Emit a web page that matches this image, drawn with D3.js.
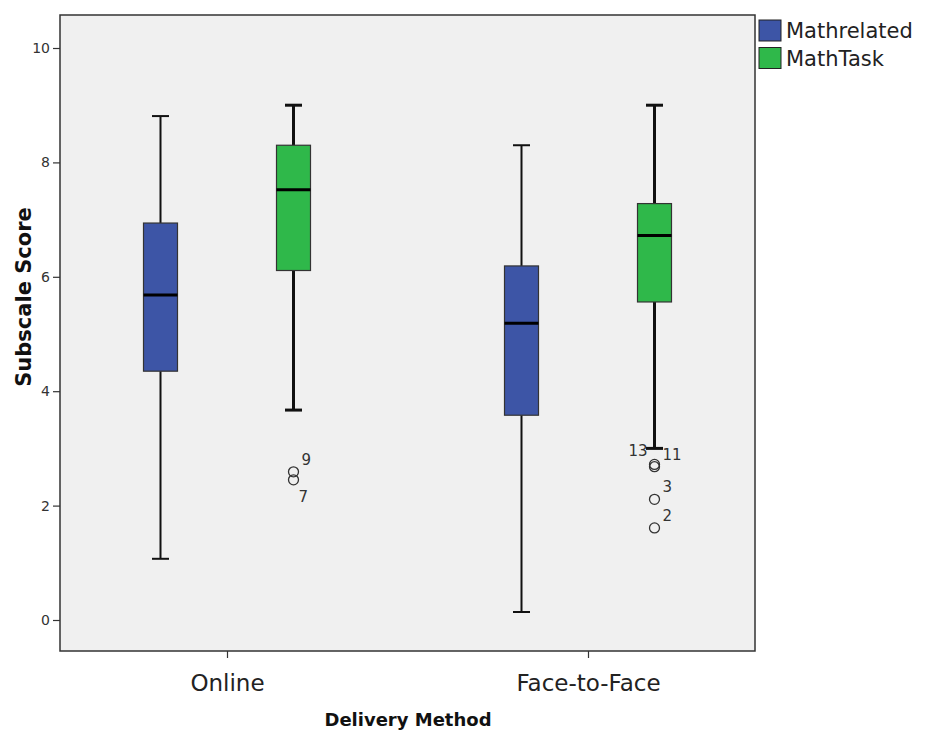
<!DOCTYPE html>
<html><head><meta charset="utf-8">
<script src="https://cdn.jsdelivr.net/npm/d3@7"></script>
<style>body{margin:0;background:#fff}svg{display:block}text{font-family:"DejaVu Sans",sans-serif}</style>
</head><body>
<svg id="c" width="926" height="731"></svg>
<script>
const categories = ["Online", "Face-to-Face"];
const seriesNames = ["Mathrelated", "MathTask"];
const seriesColors = ["#3d55a6", "#2fb84a"];
const yTicks = [0, 2, 4, 6, 8, 10];

// five-number summaries
const mathrelated = [
  {cat: "Online",       low: 1.07, q1: 4.35, med: 5.68, q3: 6.94, high: 8.81},
  {cat: "Face-to-Face", low: 0.14, q1: 3.58, med: 5.19, q3: 6.19, high: 8.30}
];
const mathtask = [
  {cat: "Online",       low: 3.67, q1: 6.11, med: 7.52, q3: 8.30, high: 9.00},
  {cat: "Face-to-Face", low: 3.00, q1: 5.56, med: 6.72, q3: 7.28, high: 9.00}
];
const outliers = [
  {cat: "Online",       series: "MathTask", value: 2.59, label: "9",  side: "ur"},
  {cat: "Online",       series: "MathTask", value: 2.45, label: "7",  side: "lr"},
  {cat: "Face-to-Face", series: "MathTask", value: 2.72, label: "13", side: "ul"},
  {cat: "Face-to-Face", series: "MathTask", value: 2.68, label: "11", side: "ur"},
  {cat: "Face-to-Face", series: "MathTask", value: 2.11, label: "3",  side: "ur"},
  {cat: "Face-to-Face", series: "MathTask", value: 1.61, label: "2",  side: "ur"}
];

const svg = d3.select("#c");
const L = 60, R = 755, T = 15, B = 651;

const x = d3.scalePoint().domain(categories).range([L, R]).padding(0.4626);
const xs = d3.scalePoint().domain(seriesNames).range([-66.5, 66.5]);
const y = d3.scaleLinear().domain([-0.542, 10.577]).range([B, T]);

svg.append("rect").attr("x", L).attr("y", T).attr("width", R - L).attr("height", B - T)
  .attr("fill", "#f0f0f0").attr("stroke", "#333").attr("stroke-width", 1.5);

// axes
const yAxis = svg.append("g").attr("transform", `translate(${L},0)`)
  .call(d3.axisLeft(y).tickValues(yTicks).tickSize(7).tickPadding(3).tickFormat(d3.format("d")));
yAxis.select(".domain").remove();
yAxis.selectAll("line").attr("stroke", "#333").attr("stroke-width", 1.2);
yAxis.selectAll("text").attr("font-size", 14).attr("fill", "#333").attr("font-family", "DejaVu Sans");

const xAxis = svg.append("g").attr("transform", `translate(0,${B})`)
  .call(d3.axisBottom(x).tickSize(7).tickPadding(16.5));
xAxis.select(".domain").remove();
xAxis.selectAll("line").attr("stroke", "#333").attr("stroke-width", 1.2);
xAxis.selectAll("text").attr("font-size", 23).attr("fill", "#222").attr("font-family", "DejaVu Sans");

svg.append("text").attr("transform", `translate(31,297) rotate(-90)`).attr("text-anchor", "middle")
  .attr("font-size", 21).attr("font-weight", "bold").attr("fill", "#111").text("Subscale Score");
svg.append("text").attr("x", 408).attr("y", 726).attr("text-anchor", "middle")
  .attr("font-size", 18).attr("font-weight", "bold").attr("fill", "#111").text("Delivery Method");

// boxes
const bw = 34, cap = 17;
[mathrelated, mathtask].forEach((data, si) => {
  const sname = seriesNames[si];
  const wsw = si === 0 ? 2 : 3;
  const g = svg.append("g");
  data.forEach(d => {
    const cx = x(d.cat) + xs(sname);
    g.append("line").attr("x1", cx).attr("x2", cx).attr("y1", y(d.q3)).attr("y2", y(d.high)).attr("stroke", "#111").attr("stroke-width", wsw);
    g.append("line").attr("x1", cx).attr("x2", cx).attr("y1", y(d.q1)).attr("y2", y(d.low)).attr("stroke", "#111").attr("stroke-width", wsw);
    g.append("line").attr("x1", cx - cap / 2).attr("x2", cx + cap / 2).attr("y1", y(d.high)).attr("y2", y(d.high)).attr("stroke", "#111").attr("stroke-width", wsw);
    g.append("line").attr("x1", cx - cap / 2).attr("x2", cx + cap / 2).attr("y1", y(d.low)).attr("y2", y(d.low)).attr("stroke", "#111").attr("stroke-width", wsw);
    g.append("rect").attr("x", cx - bw / 2).attr("y", y(d.q3)).attr("width", bw).attr("height", y(d.q1) - y(d.q3))
      .attr("fill", seriesColors[si]).attr("stroke", "#333").attr("stroke-width", 1.2);
    g.append("line").attr("x1", cx - bw / 2).attr("x2", cx + bw / 2).attr("y1", y(d.med)).attr("y2", y(d.med)).attr("stroke", "#000").attr("stroke-width", 3);
  });
});

// outliers
const off = {ur: [8, -7, "start"], lr: [5, 22, "start"], ul: [-7, -8, "end"]};
outliers.forEach(o => {
  const cx = x(o.cat) + xs(o.series);
  const cy = y(o.value);
  svg.append("circle").attr("cx", cx).attr("cy", cy).attr("r", 5).attr("fill", "none").attr("stroke", "#333").attr("stroke-width", 1.3);
  svg.append("text").attr("x", cx + off[o.side][0]).attr("y", cy + off[o.side][1]).attr("text-anchor", off[o.side][2])
    .attr("font-size", 15).attr("fill", "#333").text(o.label);
});

// legend
const lg = svg.append("g");
seriesNames.forEach((s, i) => {
  lg.append("rect").attr("x", 759).attr("y", 20 + i * 27.5).attr("width", 22).attr("height", 21)
    .attr("fill", seriesColors[i]).attr("stroke", "#222").attr("stroke-width", 1);
  lg.append("text").attr("x", 786).attr("y", 38 + i * 27.5).attr("font-size", 21).attr("fill", "#222").text(s);
});
</script>
</body></html>
